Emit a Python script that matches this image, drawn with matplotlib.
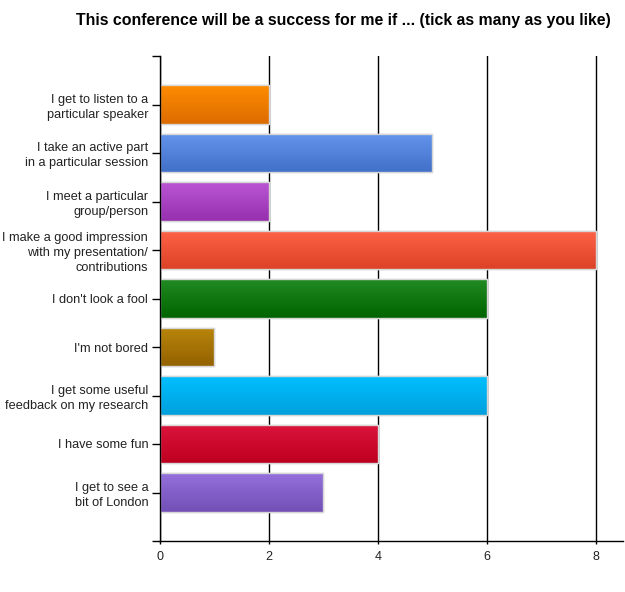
import matplotlib
matplotlib.use("Agg")
import matplotlib.pyplot as plt
import numpy as np
from matplotlib.colors import LinearSegmentedColormap

categories = [
    "I get to listen to a\nparticular speaker",
    "I take an active part\nin a particular session",
    "I meet a particular\ngroup/person",
    "I make a good impression\nwith my presentation/\ncontributions",
    "I don't look a fool",
    "I'm not bored",
    "I get some useful\nfeedback on my research",
    "I have some fun",
    "I get to see a\nbit of London",
]
values = [2, 5, 2, 8, 6, 1, 6, 4, 3]
top_colors = ["#ff8c00", "#6495ed", "#ba55d3", "#ff6347", "#228b22",
              "#b8860b", "#00bfff", "#dc143c", "#9370db"]
bottom_colors = ["#dc6c00", "#4170c8", "#9630ae", "#dc4226", "#006400",
                 "#946200", "#00a0dc", "#be0020", "#7350b6"]
xticks = [0, 2, 4, 6, 8]
title = "This conference will be a success for me if ... (tick as many as you like)"

plt.rcParams['font.family'] = ['Liberation Sans', 'DejaVu Sans']
fig = plt.figure(figsize=(6.25, 5.92), dpi=100)
ax = fig.add_axes([160/625, 51/592, 463/625, 485/592])

pos = np.arange(len(categories))
bars = ax.barh(pos, values, height=0.79, color=top_colors, edgecolor="#d6d6d6",
               linewidth=1.0, zorder=3)
grad = np.linspace(0, 1, 64).reshape(-1, 1)
for b, c1, c2 in zip(bars, top_colors, bottom_colors):
    cmap = LinearSegmentedColormap.from_list("g", [c1, c2])
    x0, y0, w, h = b.get_x(), b.get_y(), b.get_width(), b.get_height()
    im = ax.imshow(grad, cmap=cmap, aspect="auto", extent=[x0, x0 + w, y0 + h, y0],
                   origin="upper", zorder=3.5, interpolation="bilinear")
    im.set_clip_path(b)
    ax.add_patch(plt.Rectangle((x0, y0), w, h, fill=False, edgecolor="#d6d6d6",
                               linewidth=1.0, zorder=4))

ax.set_xlim(0, 8.5)
ax.set_ylim(len(categories), -1)
ax.set_xticks(xticks)
ax.set_xticklabels([str(t) for t in xticks], fontsize=9, color="#222222")
ax.set_yticks(np.arange(-1, len(categories) + 1))
ax.set_yticklabels([""] + categories + [""], fontsize=9.2, color="#222222",
                   linespacing=1.3)
ax.tick_params(axis="y", length=6, width=1, pad=2.5, color="black")
ax.tick_params(axis="x", length=2, width=1, pad=5, color="black")
ax.xaxis.grid(True, color="black", linewidth=1, zorder=1)
ax.set_axisbelow(True)
for s in ["top", "right"]:
    ax.spines[s].set_visible(False)
for s in ["left", "bottom"]:
    ax.spines[s].set_linewidth(1.0)
    ax.spines[s].set_zorder(5)

fig.text(343/625, 1 - 20/592, title, ha="center", va="center", fontsize=11.4,
         fontweight="bold", color="black")

fig.savefig("out.png", dpi=100)
